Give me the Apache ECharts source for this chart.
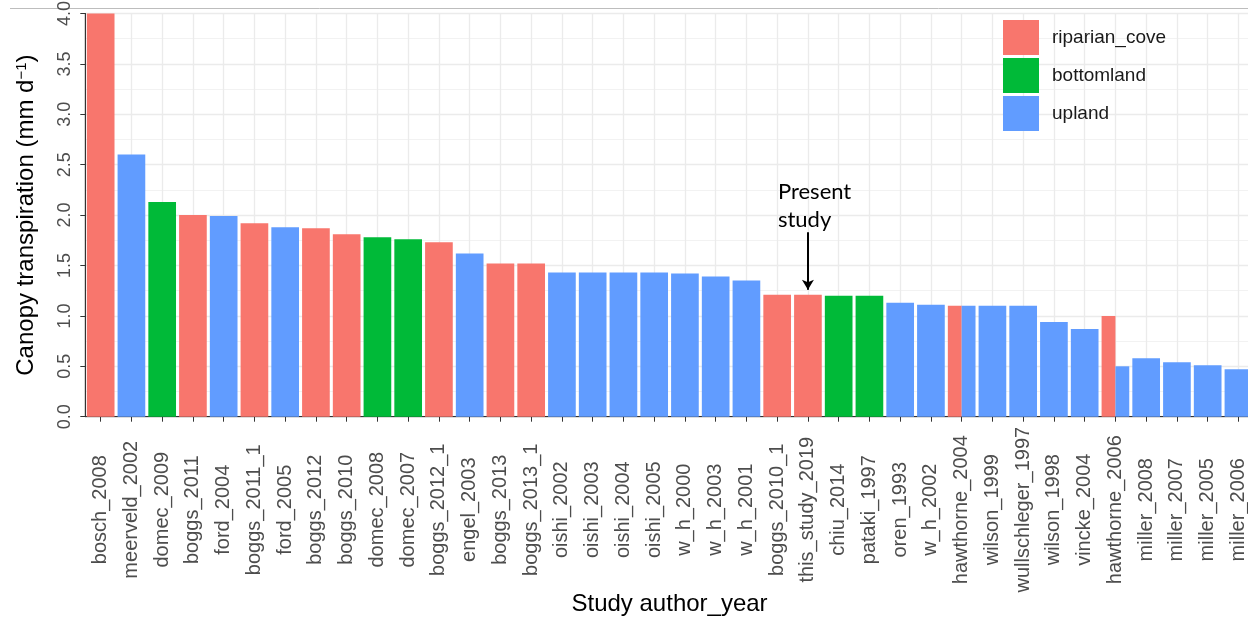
<!DOCTYPE html>
<html>
<head>
<meta charset="utf-8">
<script src="https://cdn.jsdelivr.net/npm/echarts@6/dist/echarts.min.js"></script>
<style>
  html, body { margin: 0; padding: 0; background: #fff; }
  #chart { width: 1248px; height: 618px; }
</style>
</head>
<body>
<div id="chart"></div>
<script>
// study labels, in plotted order
const categories = [
  'bosch_2008', 'meerveld_2002', 'domec_2009', 'boggs_2011', 'ford_2004',
  'boggs_2011_1', 'ford_2005', 'boggs_2012', 'boggs_2010', 'domec_2008',
  'domec_2007', 'boggs_2012_1', 'engel_2003', 'boggs_2013', 'boggs_2013_1',
  'oishi_2002', 'oishi_2003', 'oishi_2004', 'oishi_2005', 'w_h_2000',
  'w_h_2003', 'w_h_2001', 'boggs_2010_1', 'this_study_2019', 'chiu_2014',
  'pataki_1997', 'oren_1993', 'w_h_2002', 'hawthorne_2004', 'wilson_1999',
  'wullschleger_1997', 'wilson_1998', 'vincke_2004', 'hawthorne_2006',
  'miller_2008', 'miller_2007', 'miller_2005', 'miller_2006'
];

// one bar per study (null where the study has two site types)
const values = [
  4.0, 2.6, 2.13, 2.0, 1.99,
  1.92, 1.88, 1.87, 1.81, 1.78,
  1.76, 1.73, 1.62, 1.52, 1.52,
  1.43, 1.43, 1.43, 1.43, 1.42,
  1.39, 1.35, 1.21, 1.21, 1.2,
  1.2, 1.13, 1.11, null, 1.1,
  1.1, 0.94, 0.87, null,
  0.58, 0.54, 0.51, 0.47
];

const sites = [
  'riparian_cove', 'upland', 'bottomland', 'riparian_cove', 'upland',
  'riparian_cove', 'upland', 'riparian_cove', 'riparian_cove', 'bottomland',
  'bottomland', 'riparian_cove', 'upland', 'riparian_cove', 'riparian_cove',
  'upland', 'upland', 'upland', 'upland', 'upland',
  'upland', 'upland', 'riparian_cove', 'riparian_cove', 'bottomland',
  'bottomland', 'upland', 'upland', null, 'upland',
  'upland', 'upland', 'upland', null,
  'upland', 'upland', 'upland', 'upland'
];

// studies with both riparian and upland values, drawn side by side
const dodgeStudies = ['hawthorne_2004', 'hawthorne_2006'];
const dodgeRiparian = [1.1, 1.0];
const dodgeUpland = [1.1, 0.5];

const siteNames = ['riparian_cove', 'bottomland', 'upland'];
const siteColors = { riparian_cove: '#F8766D', bottomland: '#00BA38', upland: '#619CFF' };

const yTicks = [0, 0.5, 1, 1.5, 2, 2.5, 3, 3.5, 4];

const FONT = 'Liberation Sans, Arial, sans-serif';
const presentStudy = 'this_study_2019';

function siteData(site) {
  return values.map((v, i) => (sites[i] === site ? v : null));
}
function dodgeData(arr) {
  return categories.map(c => {
    const k = dodgeStudies.indexOf(c);
    return k >= 0 ? arr[k] : null;
  });
}

const mainSeries = siteNames.map(name => {
  const s = {
    name: name,
    type: 'bar',
    xAxisIndex: 0,
    barWidth: '90%',
    barGap: '-100%',
    itemStyle: { color: siteColors[name] },
    data: siteData(name)
  };
  if (name === 'riparian_cove') {
    // arrow + text pointing at this study
    s.markLine = {
      silent: true,
      symbol: ['none', 'arrow'],
      symbolSize: [9, 10],
      label: { show: false },
      lineStyle: { color: '#000', width: 2, type: 'solid' },
      data: [[{ coord: [presentStudy, 1.83] }, { coord: [presentStudy, 1.26] }]]
    };
    s.markPoint = {
      silent: true,
      symbol: 'rect',
      symbolSize: 1,
      itemStyle: { color: 'rgba(0,0,0,0)' },
      label: {
        show: true,
        position: 'inside',
        formatter: 'Present\nstudy',
        align: 'left',
        offset: [-30, 0],
        color: '#000',
        fontFamily: 'Lato, sans-serif',
        fontSize: 22,
        lineHeight: 28
      },
      data: [{ coord: [presentStudy, 2.09] }]
    };
  }
  return s;
});

const dodgeSeries = [
  { name: 'riparian_cove', data: dodgeData(dodgeRiparian) },
  { name: 'upland', data: dodgeData(dodgeUpland) }
].map(d => ({
  name: d.name,
  type: 'bar',
  xAxisIndex: 1,
  barWidth: '45%',
  barGap: '0%',
  itemStyle: { color: siteColors[d.name] },
  data: d.data
}));

const chart = echarts.init(document.getElementById('chart'));
chart.setOption({
  animation: false,
  backgroundColor: '#fff',
  grid: {
    left: 85.3, right: -5.8, top: 13.5, bottom: 201.3,
    outerBoundsMode: 'none',
    containLabel: false,
    show: true, borderColor: '#333', borderWidth: 1
  },
  legend: {
    data: siteNames,
    orient: 'vertical',
    left: 998,
    top: 15,
    itemWidth: 36,
    itemHeight: 35,
    itemGap: 3,
    icon: 'rect',
    textStyle: { fontFamily: FONT, fontSize: 19, color: '#1a1a1a', padding: [0, 0, 0, 8] }
  },
  xAxis: [
    {
      type: 'category',
      data: categories,
      name: 'Study author_year',
      nameLocation: 'middle',
      nameGap: 176,
      nameMoveOverlap: false,
      nameTextStyle: { fontFamily: FONT, fontSize: 24, color: '#000', verticalAlign: 'top' },
      axisLine: { show: true, lineStyle: { color: '#333' } },
      axisTick: { show: true, alignWithLabel: true, length: 5, lineStyle: { color: '#333' } },
      axisLabel: {
        interval: 0, rotate: 90, margin: 93, align: 'center', verticalAlign: 'middle',
        fontFamily: FONT, fontSize: 20, color: '#4d4d4d'
      },
      splitLine: { show: true, alignWithLabel: true, lineStyle: { color: '#ebebeb', width: 1.3 } }
    },
    {
      type: 'category',
      data: categories,
      show: false
    }
  ],
  yAxis: {
    type: 'value',
    min: 0,
    max: 4,
    interval: 0.5,
    name: 'Canopy transpiration (mm d{sup|−1})',
    nameLocation: 'middle',
    nameRotate: 90,
    nameGap: 46,
    nameMoveOverlap: false,
    nameTextStyle: {
      fontFamily: FONT, fontSize: 24, color: '#000',
      rich: { sup: { fontFamily: FONT, fontSize: 15, color: '#000', verticalAlign: 'top', padding: [0, 0, 10, 0] } }
    },
    axisLine: { show: true, lineStyle: { color: '#333' } },
    axisTick: { show: true, length: 5, lineStyle: { color: '#333' } },
    axisLabel: {
      rotate: 90, margin: 11, fontFamily: FONT, fontSize: 18, color: '#4d4d4d',
      formatter: v => (yTicks.indexOf(v) >= 0 ? v.toFixed(1) : '')
    },
    splitLine: { show: true, lineStyle: { color: '#ebebeb', width: 1.3 } },
    minorTick: { show: false, splitNumber: 2 },
    minorSplitLine: { show: true, lineStyle: { color: '#f2f2f2', width: 1 } }
  },
  graphic: [
    { type: 'line', shape: { x1: 10, y1: 8.5, x2: 1248, y2: 8.5 }, style: { stroke: '#bdbdbd', lineWidth: 1 }, silent: true }
  ],
  series: mainSeries.concat(dodgeSeries)
});
</script>
</body>
</html>
